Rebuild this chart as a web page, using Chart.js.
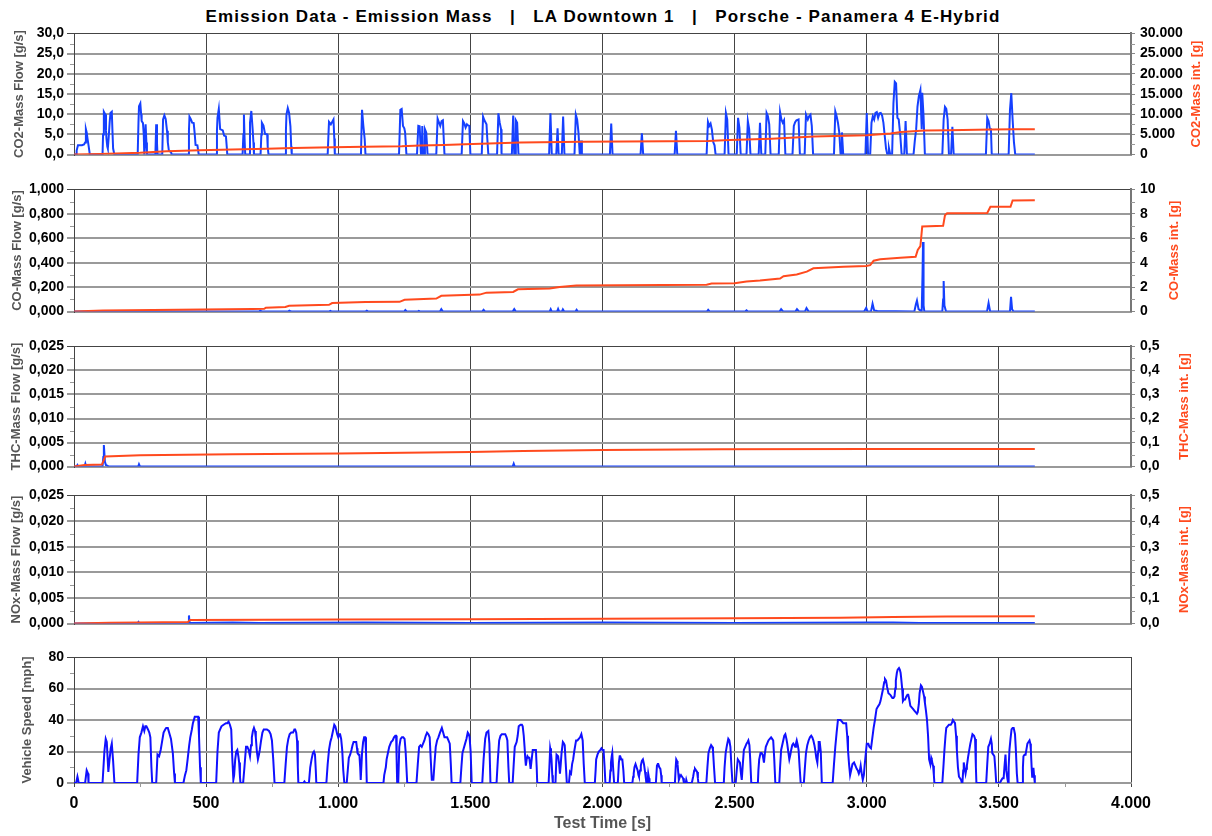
<!DOCTYPE html>
<html>
<head>
<meta charset="utf-8">
<title>Emission Data - Emission Mass</title>
<script src="https://cdn.jsdelivr.net/npm/chart.js@4.4.1/dist/chart.umd.min.js"></script>
<style>
  body { margin: 0; background: #fff; }
  #wrap { position: relative; width: 1212px; height: 836px; overflow: hidden; background: #fff; }
  #title { position: absolute; left: 0; top: 6px; width: 1206px; text-align: center; white-space: pre;
           font: bold 17px "Liberation Sans", Arial, sans-serif; line-height: 22px; color: #000; letter-spacing: 1.1px; }
  canvas { position: absolute; left: 0; }
</style>
</head>
<body>
<div id="wrap">
  <div id="title">Emission Data - Emission Mass   |   LA Downtown 1   |   Porsche - Panamera 4 E-Hybrid</div>
</div>
<script>
// time axis ticks [s]
const timeTicks = [0, 500, 1000, 1500, 2000, 2500, 3000, 3500, 4000];

// CO2 mass flow [g/s]  (time, value)
const co2Flow = [[0,0],[8,0],[10,1],[15,2.3],[30,2.3],[38,2.5],[42,3],[45,6.3],[48,5.5],[51,4],[55,2.3],[60,0],[108,0],[110,5],[113,10.6],[118,10],[121,6],[123,3.9],[126,2],[128,1.5],[131,4],[135,8],[138,10.3],[143,10.6],[146,5],[148,1.5],[153,0],
  [241,0],[244,8],[246,12],[251,12.7],[254,10],[256,8.3],[261,7.8],[264,5],[266,0],[268,0],[271,7.5],[274,3],[276,0],[308,0],[311,7.5],[314,3],[316,0],[334,0],[337,8.7],[342,9.7],[347,8.8],[352,5.9],[355,3],[359,1],[367,0.6],[370,0],
  [432,0],[435,6],[437,9.4],[442,8.8],[447,7.9],[453,7.8],[457,5],[460,2.4],[467,2.3],[472,0],[538,0],[541,6],[543,9.1],[548,11.3],[553,6.3],[563,6],[568,4.7],[575,4.5],[578,2],[580,0],
  [638,0],[641,5],[643,9.9],[646,3],[648,0],[663,0],[666,7.9],[671,10.8],[676,6.3],[679,3],[681,0],[706,0],[709,5],[711,7.9],[717,7.2],[723,5.1],[731,5],[733,2],[736,0],
  [799,0],[802,6],[804,9.9],[809,11.5],[814,10.3],[819,7],[822,2],[824,0],[960,0],[963,5],[965,8.1],[972,7.5],[977,8.1],[982,8.7],[985,4],[987,0],[1086,0],[1088,6],[1090,11.1],[1095,7.1],[1100,3.9],[1103,0],
  [1230,0],[1235,11.1],[1240,11.3],[1245,7.1],[1250,6.5],[1253,5.5],[1258,0],[1298,0],[1303,7.1],[1308,7],[1313,0],[1316,0],[1318,7.1],[1321,0],[1326,0],[1328,6.3],[1333,5.5],[1338,0],
  [1371,0],[1376,8.9],[1381,8],[1386,7.1],[1391,8.3],[1396,8.5],[1402,0],[1467,0],[1472,8.3],[1477,7.7],[1482,6.7],[1487,7.5],[1490,7.3],[1496,7.1],[1500,0],
  [1543,0],[1548,9.4],[1553,8.5],[1561,7.5],[1564,4],[1568,0],[1601,0],[1606,10.2],[1611,7.9],[1616,6.3],[1618,0],[1657,0],[1662,9.7],[1666,0],[1669,0],[1672,8.5],[1677,7.9],[1682,0],
  [1798,0],[1803,10.2],[1808,0],[1825,0],[1830,6.5],[1834,0],[1846,0],[1851,9.4],[1856,0],[1894,0],[1899,9.9],[1904,8.7],[1909,5.5],[1914,0],[1916,0],[1919,3.5],[1922,0],
  [2028,0],[2033,7.7],[2038,0],[2144,0],[2149,5.3],[2154,0],[2273,0],[2278,5.9],[2283,0],[2394,0],[2399,8.1],[2404,7.1],[2409,7.7],[2414,6.2],[2419,3.1],[2424,2.3],[2428,0],
  [2462,0],[2467,10.3],[2472,8.7],[2477,0],[2508,0],[2513,9.1],[2518,6.7],[2523,0],[2545,0],[2550,8.3],[2555,6.3],[2560,0],[2591,0],[2596,7.9],[2601,0],
  [2616,0],[2621,10.3],[2626,9.5],[2631,7.5],[2636,0],[2667,0],[2672,10.5],[2677,8.7],[2682,7.9],[2687,8.5],[2692,0],[2719,0],[2724,7.1],[2729,8],[2734,8.5],[2742,8.7],[2747,0],
  [2765,0],[2770,9.9],[2777,8.7],[2782,9.5],[2787,9.9],[2792,7.1],[2797,0],[2876,0],[2881,10.7],[2886,9.5],[2891,7.9],[2896,5.5],[2901,0],[2903,0],[2906,5.5],[2911,0],
  [2995,0],[3000,10.3],[3005,0],[3013,0],[3018,7.9],[3023,9.5],[3028,8.7],[3033,10.3],[3038,10.5],[3043,9.1],[3048,10.2],[3053,10.3],[3058,9.7],[3063,7.9],[3068,4.7],[3073,1.5],[3078,0],[3081,0],[3084,1.6],[3089,0],
  [3096,0],[3101,12.7],[3106,18],[3111,17.6],[3116,9.1],[3121,8.7],[3127,4.7],[3132,0],[3142,0],[3147,8.3],[3152,0],
  [3177,0],[3182,3.5],[3187,6.3],[3192,11.9],[3197,14.4],[3203,16],[3206,10],[3208,6.3],[3210,15.3],[3215,9.5],[3220,0],
  [3286,0],[3291,8.7],[3296,11.8],[3301,11.3],[3306,8.7],[3311,0],[3319,0],[3324,6.9],[3329,0],[3451,0],[3456,9.1],[3461,8.3],[3466,6.3],[3470,6.3],[3473,0],
  [3537,0],[3542,11.1],[3547,15.2],[3552,8.7],[3557,3.1],[3562,0],[3636,0]];

// CO2 mass integrated [g]
const co2Total = [[0,0],[100,150],[250,450],[350,800],[475,1050],[600,1250],[730,1450],[830,1650],[980,1850],[1100,1950],[1240,2050],[1310,2250],[1400,2400],[1480,2550],
  [1570,2750],[1690,3000],[1920,3200],[2400,3350],[2480,3600],[2640,3950],[2800,4500],[3000,4800],[3090,5200],[3130,5600],[3220,5950],[3310,6050],[3470,6200],[3560,6300],[3636,6300]];

// CO mass flow [g/s]
const coFlow = [[0,0],[300,0],[305,0.005],[310,0],[700,0],[705,0.008],[712,0],[810,0],[815,0.008],[822,0],[965,0],[970,0.006],[976,0],[1103,0],[1108,0.008],[1114,0],
  [1250,0],[1254,0.013],[1260,0],[1300,0],[1305,0.006],[1310,0],[1385,0],[1390,0.02],[1396,0],[1545,0],[1550,0.015],[1556,0],[1660,0],[1666,0.02],[1672,0],
  [1800,0],[1804,0.02],[1808,0],[1828,0],[1832,0.022],[1836,0],[1846,0],[1850,0.018],[1855,0],[1898,0],[1902,0.015],[1907,0],[2395,0],[2400,0.015],[2406,0],
  [2540,0],[2545,0.01],[2550,0],[2670,0],[2676,0.02],[2684,0],[2730,0],[2736,0.02],[2744,0],[2766,0],[2772,0.028],[2780,0],[2990,0],[2998,0.03],[3003,0],
  [3016,0],[3022,0.065],[3028,0.01],[3040,0.005],[3180,0],[3186,0.06],[3190,0.09],[3196,0.02],[3208,0],[3211,0.3],[3213,0.57],[3215,0.05],[3218,0],
  [3286,0],[3289,0.1],[3291,0.25],[3294,0.05],[3300,0],[3455,0],[3461,0.07],[3467,0],[3542,0],[3546,0.12],[3550,0.02],[3555,0],[3636,0]];

// CO mass integrated [g]
const coTotal = [[0,0],[110,0.08],[300,0.13],[676,0.21],[720,0.23],[726,0.32],[800,0.38],[814,0.48],[965,0.56],[977,0.7],[1103,0.78],[1232,0.8],[1251,0.97],[1371,1.07],[1390,1.29],
  [1535,1.39],[1561,1.55],[1662,1.61],[1680,1.82],[1800,1.9],[1838,2.01],[1901,2.14],[2394,2.2],[2413,2.3],[2500,2.33],[2545,2.47],[2596,2.55],[2672,2.71],[2685,2.9],
  [2735,3.03],[2773,3.27],[2798,3.54],[2912,3.67],[2998,3.73],[3013,3.8],[3026,4.16],[3051,4.29],[3127,4.4],[3185,4.48],[3193,5.04],[3203,5.36],[3210,6.97],
  [3289,7.02],[3296,7.88],[3304,8.04],[3456,8.07],[3468,8.58],[3544,8.58],[3552,9.09],[3636,9.12]];

// THC mass flow [g/s]
const thcFlow = [[0,0],[10,0],[13,0.0003],[16,0],[40,0],[43,0.0006],[46,0],[108,0],[111,0.002],[113,0.0045],[117,0.001],[121,0.0003],[126,0.0002],[132,0],
  [243,0],[246,0.0005],[250,0],[1660,0],[1664,0.0006],[1668,0],[3636,0]];

// THC mass integrated [g]
const thcTotal = [[0,0],[40,0.007],[106,0.009],[112,0.025],[118,0.042],[250,0.047],[600,0.051],[1000,0.054],[1500,0.061],[1700,0.065],[2000,0.069],[2450,0.072],[3000,0.073],[3636,0.073]];

// NOx mass flow [g/s]
const noxFlow = [[0,0],[240,0],[244,0.0003],[248,0],[432,0],[435,0.0016],[437,0.0003],[440,0.0001],[600,0.0002],[700,0.0001],[1100,0.0002],[1500,0.0001],
  [2000,0.0002],[2500,0.0001],[3000,0.0002],[3100,0.0002],[3200,0.0001],[3636,0.0001]];

// NOx mass integrated [g]
const noxTotal = [[0,0],[136,0.003],[242,0.004],[431,0.006],[440,0.014],[1000,0.016],[1500,0.017],[2000,0.019],[2500,0.021],[2900,0.023],[3100,0.026],[3300,0.028],[3636,0.029]];

// vehicle speed [mph]
const speed = [[0,0],[8,0],[13,4],[18,0],[42,0],[48,8],[53,6],[55,0],[108,0],[115,20],[120,28],[124,26],[130,7],[134,14],[139,22],[143,25],[148,14],[153,0],
  [239,0],[244,18],[249,29],[255,32],[261,36],[266,33],[270,36],[274,36],[280,34],[285,32],[289,29],[293,10],[296,0],[311,0],[316,18],[322,17],[328,21],[332,25],
  [339,32],[345,34],[349,35],[355,35],[360,32],[367,28],[374,19],[379,6],[382,0],[414,0],[420,5],[425,8],[430,15],[436,24],[440,29],[446,34],[450,38],[457,42],
  [465,42],[470,42],[473,30],[477,10],[480,0],[538,0],[543,20],[548,32],[553,34],[558,36],[566,37],[575,38],[580,38],[585,39],[590,37],[595,34],[599,16],[603,2],
  [606,5],[610,15],[614,20],[618,21],[622,17],[625,13],[628,4],[630,0],[640,0],[645,10],[651,23],[656,23],[661,21],[666,17],[670,24],[673,29],[677,33],[681,35],
  [685,33],[688,29],[692,20],[696,15],[700,18],[703,21],[708,27],[713,32],[718,34],[723,34],[730,34],[738,33],[744,31],[749,27],[754,15],[759,0],
  [796,0],[801,12],[806,23],[811,28],[816,31],[822,32],[829,32],[834,34],[837,34],[841,32],[844,27],[847,10],[849,0],[868,0],[872,1],[876,0],
  [889,0],[894,10],[899,15],[904,19],[908,20],[912,18],[915,8],[917,0],[955,0],[960,12],[965,21],[970,26],[975,29],[980,33],[985,37],[989,36],[992,34],
  [996,31],[1000,29],[1004,31],[1007,31],[1011,28],[1015,21],[1019,8],[1023,0],[1032,0],[1036,8],[1040,16],[1045,18],[1050,21],[1054,24],[1058,26],[1063,26],
  [1068,26],[1071,22],[1073,19],[1077,18],[1080,18],[1083,10],[1085,2],[1088,12],[1090,19],[1094,26],[1098,29],[1102,29],[1105,20],[1108,0],
  [1171,0],[1174,5],[1176,5],[1180,10],[1183,15],[1188,19],[1193,23],[1200,26],[1206,27],[1211,29],[1216,30],[1219,30],[1221,15],[1223,0],[1227,0],[1231,23],
  [1236,28],[1241,29],[1246,29],[1251,28],[1255,20],[1261,0],[1296,0],[1301,12],[1306,23],[1311,24],[1316,23],[1321,25],[1326,27],[1331,30],[1336,32],[1341,31],
  [1346,29],[1350,15],[1354,2],[1360,2],[1364,12],[1369,23],[1374,27],[1379,29],[1385,32],[1392,35],[1397,32],[1402,29],[1407,29],[1412,29],[1417,27],[1422,25],
  [1426,12],[1429,0],[1462,0],[1466,10],[1470,19],[1475,22],[1480,25],[1485,28],[1490,32],[1494,31],[1497,29],[1501,20],[1505,0],
  [1545,0],[1550,15],[1556,28],[1561,32],[1568,33],[1572,25],[1576,0],[1599,0],[1604,15],[1609,27],[1614,30],[1619,31],[1626,31],[1632,31],[1637,29],[1640,27],
  [1644,10],[1647,0],[1660,0],[1664,12],[1668,23],[1675,26],[1679,30],[1683,36],[1690,37],[1695,37],[1698,36],[1702,30],[1705,23],[1708,15],[1710,11],[1713,15],
  [1716,17],[1720,16],[1723,16],[1726,12],[1728,9],[1732,15],[1736,21],[1742,21],[1748,21],[1751,10],[1753,0],[1796,0],[1799,10],[1802,22],[1805,19],[1807,15],
  [1810,5],[1812,0],[1822,0],[1826,18],[1832,17],[1836,12],[1839,6],[1842,12],[1845,19],[1850,26],[1854,25],[1857,24],[1861,12],[1865,0],[1873,0],[1877,7],
  [1881,6],[1885,12],[1889,15],[1893,20],[1897,24],[1900,27],[1905,27],[1910,28],[1915,29],[1920,31],[1925,27],[1929,12],[1933,0],[1971,0],[1974,8],[1976,15],
  [1981,18],[1986,20],[1992,21],[1996,22],[2000,21],[2004,21],[2008,10],[2011,0],[2027,0],[2030,8],[2032,13],[2035,17],[2037,19],[2040,10],[2044,0],[2058,0],
  [2062,13],[2065,17],[2067,17],[2071,15],[2075,15],[2079,8],[2082,0],[2113,0],[2116,4],[2118,6],[2121,10],[2125,12],[2129,10],[2133,8],[2136,5],[2138,4],
  [2142,8],[2145,11],[2149,14],[2153,15],[2157,12],[2161,7],[2164,3],[2166,0],[2170,0],[2173,6],[2176,3],[2178,0],[2202,0],[2206,11],[2209,12],[2211,12],
  [2215,10],[2219,9],[2222,5],[2224,0],[2274,0],[2277,10],[2279,15],[2282,14],[2284,12],[2287,6],[2289,2],[2293,4],[2297,5],[2301,4],[2305,3],[2308,0],
  [2315,0],[2317,2],[2320,0],[2338,0],[2343,4],[2347,8],[2350,9],[2354,8],[2358,7],[2361,3],[2363,0],[2393,0],[2397,10],[2401,19],[2406,22],[2411,24],[2415,23],
  [2418,21],[2422,10],[2426,0],[2459,0],[2462,10],[2466,19],[2471,24],[2476,28],[2480,27],[2484,23],[2488,10],[2492,0],[2504,0],[2508,8],[2512,15],[2516,14],
  [2520,13],[2524,6],[2527,2],[2531,12],[2535,21],[2540,23],[2545,25],[2549,26],[2552,27],[2556,24],[2559,15],[2563,0],[2588,0],[2590,8],[2593,15],[2598,19],
  [2602,19],[2606,18],[2609,15],[2611,13],[2614,18],[2618,23],[2623,25],[2628,27],[2633,28],[2638,29],[2642,28],[2646,27],[2650,15],[2654,0],[2669,0],[2672,10],
  [2676,21],[2680,24],[2684,27],[2688,30],[2692,31],[2696,28],[2699,25],[2703,20],[2707,15],[2711,18],[2714,21],[2718,24],[2722,25],[2726,24],[2729,23],[2732,25],
  [2735,27],[2739,24],[2742,21],[2746,10],[2750,0],[2762,0],[2766,10],[2770,19],[2775,24],[2780,27],[2785,29],[2790,30],[2794,29],[2798,27],[2802,24],[2805,21],
  [2809,16],[2813,13],[2816,20],[2818,26],[2822,26],[2826,20],[2830,0],[2871,0],[2876,12],[2881,23],[2886,32],[2891,40],[2896,40],[2901,40],[2906,39],[2911,38],
  [2916,38],[2922,38],[2926,30],[2929,21],[2933,12],[2937,5],[2941,8],[2946,12],[2952,13],[2957,11],[2962,9],[2966,8],[2970,6],[2974,8],[2977,11],[2981,6],
  [2985,2],[2989,5],[2992,11],[2996,18],[3000,25],[3006,25],[3010,23],[3016,22],[3020,27],[3026,35],[3031,40],[3037,47],[3044,49],[3048,50],[3052,52],[3057,56],
  [3062,60],[3066,64],[3069,66],[3073,65],[3077,61],[3082,57],[3089,56],[3093,55],[3097,54],[3101,54],[3105,55],[3108,60],[3110,65],[3114,70],[3117,72],[3122,73],
  [3125,72],[3128,70],[3130,67],[3134,60],[3137,52],[3141,53],[3145,53],[3150,55],[3154,56],[3157,56],[3161,53],[3165,49],[3170,48],[3175,47],[3180,46],[3185,45],
  [3190,44],[3193,45],[3197,50],[3200,57],[3205,62],[3209,61],[3213,58],[3217,55],[3220,51],[3224,46],[3228,40],[3232,30],[3236,15],[3239,13],[3241,12],[3244,16],
  [3246,15],[3249,12],[3251,11],[3254,5],[3256,0],[3286,0],[3290,10],[3294,21],[3298,30],[3301,35],[3306,36],[3311,37],[3318,37],[3322,38],[3326,40],[3330,39],
  [3334,38],[3338,30],[3341,21],[3345,10],[3349,4],[3353,3],[3357,2],[3360,0],[3362,0],[3365,8],[3367,13],[3370,10],[3374,6],[3377,9],[3379,11],[3384,17],
  [3388,21],[3392,25],[3396,28],[3400,31],[3402,31],[3406,30],[3410,28],[3413,10],[3415,0],[3452,0],[3456,12],[3460,23],[3465,25],[3470,28],[3473,25],[3475,19],
  [3479,18],[3483,17],[3487,8],[3490,0],[3503,0],[3507,1],[3510,2],[3514,3],[3518,3],[3521,10],[3525,18],[3528,8],[3532,3],[3535,0],[3537,10],[3540,21],
  [3544,28],[3548,34],[3552,35],[3556,35],[3561,31],[3564,22],[3568,6],[3571,0],[3573,0],[3588,0],[3591,10],[3593,17],[3597,18],[3601,18],[3604,21],[3608,25],
  [3612,26],[3616,27],[3619,25],[3621,21],[3624,10],[3626,4],[3628,9],[3631,9],[3633,5],[3636,0]];

const FONT = '"Liberation Sans", Arial, sans-serif';
const BLUE = '#1540ff';
const SPEED_BLUE = '#1010ff';
const ORANGE = '#ff4a1e';

const comma = d => v => Number(v).toFixed(d).replace('.', ',');
const dots = v => String(Math.round(v)).replace(/\B(?=(\d{3})+(?!\d))/g, '.');
const toXY = pts => pts.map(([x, y]) => ({ x, y }));

const panels = [
  { flow: co2Flow, total: co2Total, top: 32, bottom: 156, yMax: 30, yStep: 5, yFmt: comma(1),
    y1Max: 30000, y1Step: 5000, y1Fmt: dots,
    leftTitle: 'CO2-Mass Flow [g/s]', leftX: 19, rightTitle: 'CO2-Mass int. [g]', rightX: 1196 },
  { flow: coFlow, total: coTotal, top: 188, bottom: 313, yMax: 1, yStep: 0.2, yFmt: comma(3),
    y1Max: 10, y1Step: 2, y1Fmt: v => String(Math.round(v)),
    leftTitle: 'CO-Mass Flow [g/s]', leftX: 17, rightTitle: 'CO-Mass int. [g]', rightX: 1174 },
  { flow: thcFlow, total: thcTotal, top: 345, bottom: 468, yMax: 0.025, yStep: 0.005, yFmt: comma(3),
    y1Max: 0.5, y1Step: 0.1, y1Fmt: comma(1),
    leftTitle: 'THC-Mass Flow [g/s]', leftX: 16, rightTitle: 'THC-Mass int. [g]', rightX: 1184 },
  { flow: noxFlow, total: noxTotal, top: 494, bottom: 625, yMax: 0.025, yStep: 0.005, yFmt: comma(3),
    y1Max: 0.5, y1Step: 0.1, y1Fmt: comma(1),
    leftTitle: 'NOx-Mass Flow [g/s]', leftX: 16, rightTitle: 'NOx-Mass int. [g]', rightX: 1184 },
  { flow: speed, top: 657, bottom: 783, yMax: 80, yStep: 20, yFmt: v => String(Math.round(v)),
    leftTitle: 'Vehicle Speed [mph]', leftX: 27, last: true }
];

// axis titles and minor tick marks
const panelDecor = {
  id: 'panelDecor',
  afterDraw(chart, args, opts) {
    const ctx = chart.ctx;
    const area = chart.chartArea;
    const mid = (area.top + area.bottom) / 2;
    ctx.save();
    ctx.strokeStyle = '#999';
    ctx.lineWidth = 1;
    ['y', 'y1'].forEach(id => {
      const sc = chart.scales[id];
      if (!sc) return;
      const t = sc.ticks;
      for (let i = 0; i < t.length - 1; i++) {
        const py = Math.round(sc.getPixelForValue((t[i].value + t[i + 1].value) / 2)) + 0.5;
        ctx.beginPath();
        if (id === 'y') { ctx.moveTo(sc.right - 4, py); ctx.lineTo(sc.right, py); }
        else { ctx.moveTo(sc.left, py); ctx.lineTo(sc.left + 4, py); }
        ctx.stroke();
      }
    });
    if (opts.last) {
      const xs = chart.scales.x;
      for (let i = 0; i < timeTicks.length - 1; i++) {
        const px = Math.round(xs.getPixelForValue((timeTicks[i] + timeTicks[i + 1]) / 2)) + 0.5;
        ctx.beginPath();
        ctx.moveTo(px, area.bottom);
        ctx.lineTo(px, area.bottom + 4);
        ctx.stroke();
      }
    }
    ctx.font = 'bold 13px ' + FONT;
    ctx.textAlign = 'center';
    ctx.textBaseline = 'middle';
    ctx.save();
    ctx.translate(opts.leftX, mid);
    ctx.rotate(-Math.PI / 2);
    ctx.fillStyle = '#555';
    ctx.fillText(opts.leftTitle, 0, 0);
    ctx.restore();
    if (opts.rightTitle) {
      ctx.translate(opts.rightX, mid);
      ctx.rotate(-Math.PI / 2);
      ctx.fillStyle = ORANGE;
      ctx.fillText(opts.rightTitle, 0, 0);
    }
    ctx.restore();
  }
};

function makePanel(p) {
  const wrap = document.getElementById('wrap');
  const padT = 12;
  const xH = p.last ? 53 : 0;
  const canvas = document.createElement('canvas');
  canvas.width = 1212;
  canvas.height = p.bottom - p.top + padT + (p.last ? xH : 12);
  canvas.style.top = (p.top - padT) + 'px';
  wrap.appendChild(canvas);

  const datasets = [];
  if (p.total) {
    datasets.push({ data: toXY(p.total), yAxisID: 'y1', borderColor: ORANGE, borderWidth: 2 });
  }
  datasets.push({ data: toXY(p.flow), yAxisID: 'y', borderColor: p.last ? SPEED_BLUE : BLUE, borderWidth: 2 });

  const isTop = c => c.tick && Math.abs(c.tick.value - p.yMax) < 1e-9;
  const scales = {
    x: {
      type: 'linear', min: 0, max: 4000,
      afterBuildTicks: s => { s.ticks = timeTicks.map(v => ({ value: v })); },
      afterFit: s => { s.height = xH; },
      grid: { color: '#444', lineWidth: 1, drawTicks: !!p.last, tickLength: 4 },
      border: { color: '#999', width: 2 },
      ticks: { display: !!p.last, maxRotation: 0, autoSkip: false, padding: 7, color: '#000',
               font: { family: FONT, size: 16, weight: 'bold' }, callback: v => dots(v) },
      title: { display: !!p.last, text: 'Test Time [s]', color: '#555',
               font: { family: FONT, size: 16, weight: 'bold' }, padding: { top: 0, bottom: 3 } }
    },
    y: {
      position: 'left', min: 0, max: p.yMax,
      afterFit: s => { s.width = 74; },
      ticks: { stepSize: p.yStep, autoSkip: false, padding: 3, color: '#000',
               font: { family: FONT, size: 14, weight: 'bold' }, callback: v => p.yFmt(v) },
      grid: { color: c => isTop(c) ? '#444' : '#9a9a9a', lineWidth: c => isTop(c) ? 1 : 2, tickLength: 7 },
      border: { color: '#444', width: 1 }
    }
  };
  if (p.total) {
    scales.y1 = {
      position: 'right', min: 0, max: p.y1Max,
      afterFit: s => { s.width = 81; },
      ticks: { stepSize: p.y1Step, autoSkip: false, padding: 5, color: '#000',
               font: { family: FONT, size: 14, weight: 'bold' }, callback: v => p.y1Fmt(v) },
      grid: { drawOnChartArea: false, color: '#888', lineWidth: 1, tickLength: 4 },
      border: { color: '#777', width: 2 }
    };
  }

  new Chart(canvas, {
    type: 'line',
    data: { datasets },
    options: {
      responsive: false,
      animation: false,
      devicePixelRatio: 1,
      normalized: true,
      events: [],
      layout: { autoPadding: false, padding: { top: padT, bottom: p.last ? 0 : 12, left: 0, right: p.total ? 0 : 81 } },
      elements: { point: { radius: 0 }, line: { tension: 0 } },
      plugins: {
        legend: { display: false },
        tooltip: { enabled: false },
        panelDecor: { leftTitle: p.leftTitle, leftX: p.leftX, rightTitle: p.rightTitle, rightX: p.rightX, last: !!p.last }
      },
      scales
    },
    plugins: [panelDecor]
  });
}

panels.forEach(makePanel);
</script>
</body>
</html>
